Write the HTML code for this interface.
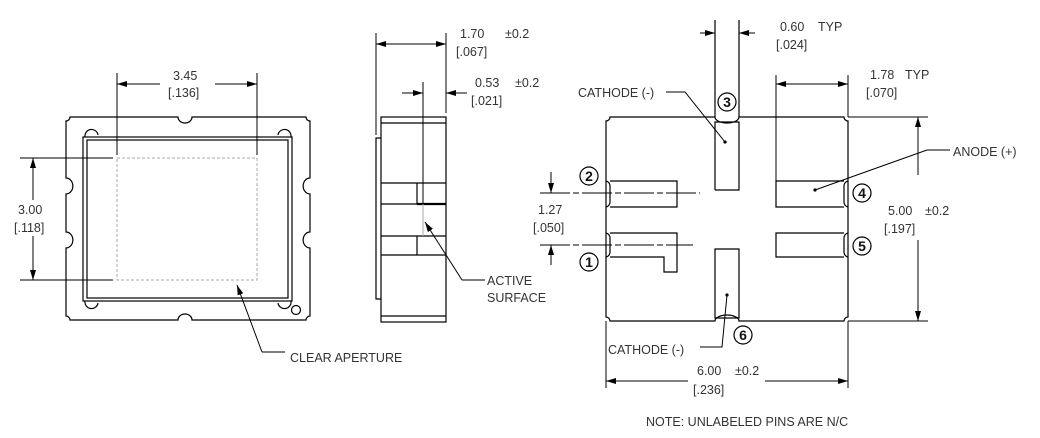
<!DOCTYPE html>
<html><head><meta charset="utf-8"><style>
html,body{margin:0;padding:0;background:#fff;}
svg{display:block;}
text{font-family:"Liberation Sans",sans-serif;font-size:12.5px;fill:#333;}
.b{font-weight:bold;font-size:14px;fill:#111;}
</style></head><body>
<svg width="1040" height="438" viewBox="0 0 1040 438" xmlns="http://www.w3.org/2000/svg">
<defs>
<marker id="a" viewBox="0 0 10 6" refX="10" refY="3" markerWidth="10" markerHeight="6" orient="auto" markerUnits="userSpaceOnUse"><path d="M0,0 L10,3 L0,6 z" fill="#000"/></marker>
</defs>
<g stroke="#000" stroke-width="1.2" fill="none">
<!-- LEFT VIEW -->
<path d="M70,117 H178 A7,6 0 0 0 192,117 H306 A4,4 0 0 0 310,121 V178 A6,7 0 0 0 310,194 V232 A6,7 0 0 0 310,248 V316 A4,4 0 0 0 306,320 H192 A7,6 0 0 0 178,320 H70 A4,4 0 0 0 66,316 V248 A6,7 0 0 0 66,232 V194 A6,7 0 0 0 66,178 V121 A4,4 0 0 0 70,117 Z"/>
<rect x="83" y="137" width="209" height="164"/>
<rect x="87" y="140" width="201" height="158"/>
<path d="M85,137 A6,6 0 0 1 98,135 M278,135 A6,6 0 0 1 291,137 M85,301 A6,6 0 0 0 98,303 M278,303 A6,6 0 0 0 291,301"/>
<circle cx="296" cy="310" r="4.5"/>
<rect x="117" y="158" width="140" height="122" stroke="#aaa" stroke-dasharray="3,2" stroke-width="1"/>
<path d="M117,73 V155 M257,73 V155 M20,158 H113 M20,280 H113" stroke-width="1"/>
<g stroke-width="1" marker-end="url(#a)">
<path d="M160,84 H117"/><path d="M215,84 H257"/>
<path d="M33,200 V158"/><path d="M33,236 V280"/>
<path d="M262,352 L237,285"/>
</g>
<path d="M262,352 H285" stroke-width="1"/>
<!-- SIDE VIEW -->
<rect x="381" y="117" width="65" height="205"/>
<path d="M381,123 H446 M381,316 H446 M381,183 H446 M381,204 H446 M381,236 H446 M381,255 H446 M417,183 V204 M417,236 V255"/>
<path d="M417,204 H446" stroke-width="2.2"/>
<path d="M381,138 H376 V299 H381"/>
<path d="M423,82 V204" stroke-width="1"/>
<path d="M423,204 V236" stroke="#aaa" stroke-width="1"/>
<path d="M376,33 V135 M446,33 V113" stroke-width="1"/>
<g stroke-width="1" marker-end="url(#a)">
<path d="M411,44 H376"/><path d="M411,44 H446"/>
<path d="M402,93 H423"/><path d="M467,93 H446"/>
<path d="M462,280 L425,222"/>
</g>
<path d="M462,280 H485" stroke-width="1"/>
<!-- RIGHT VIEW -->
<path d="M610,117 H715 A12,6 0 0 0 739,117 H844 A4,4 0 0 0 848,121 V317 A4,4 0 0 0 844,321 H739 A12,6 0 0 0 715,321 H610 A4,4 0 0 0 606,317 V121 A4,4 0 0 0 610,117 Z"/>
<path d="M715,20 V117 M739,20 V117 M715,190 V122 H739 V190 H715 M715,249 H739 V318 H715 Z"/>
<path d="M606,181 A5,5 0 0 1 610,186 V202 A5,5 0 0 1 606,207 M610,181 H677 V207 H610"/>
<path d="M606,233 A5,5 0 0 1 610,238 V252 A5,5 0 0 1 606,257 M610,233 H677 V272 H664 V257 H610"/>
<path d="M848,181 A5,5 0 0 0 844,186 V202 A5,5 0 0 0 848,207 M844,181 H776 V207 H844"/>
<path d="M848,233 A5,5 0 0 0 844,238 V252 A5,5 0 0 0 848,257 M844,233 H776 V257 H844"/>
<path d="M540,193 H700 M540,245 H693" stroke-width="1" stroke-dasharray="30,3,6,3"/>
<g stroke-width="1" marker-end="url(#a)">
<path d="M551,172 V193"/><path d="M551,265 V245"/>
<path d="M700,33 H715"/><path d="M755,33 H739"/>
<path d="M800,84 H776"/><path d="M820,84 H848"/>
<path d="M918,150 V117"/><path d="M918,290 V321"/>
<path d="M688,381 H606"/><path d="M765,381 H848"/>
</g>
<path d="M776,75 V181 M848,75 V117 M848,117 H928 M848,321 H928 M918,150 V175 M918,240 V290 M606,321 V388 M848,321 V388 M800,84 H820" stroke-width="1"/>
<path d="M666,92 H685 L725,142 M815,190 L927,150 H950 M727,295 L722,347 H700" stroke-width="1"/>
<circle cx="589" cy="176" r="9"/><circle cx="589" cy="262" r="9"/><circle cx="727" cy="102" r="9"/>
<circle cx="862" cy="193" r="9"/><circle cx="862" cy="246" r="9"/><circle cx="743" cy="335" r="9"/>
</g>
<g fill="#000"><circle cx="725" cy="142" r="1.6"/><circle cx="815" cy="190" r="1.6"/><circle cx="727" cy="295" r="1.6"/></g>
<g>
<text x="173" y="80">3.45</text><text x="168" y="97">[.136]</text>
<text x="18" y="214">3.00</text><text x="14" y="232">[.118]</text>
<text x="290" y="362">CLEAR APERTURE</text>
<text x="460" y="38">1.70</text><text x="505" y="38">±0.2</text><text x="456" y="56">[.067]</text>
<text x="475" y="87">0.53</text><text x="515" y="87">±0.2</text><text x="471" y="105">[.021]</text>
<text x="487" y="285">ACTIVE</text><text x="487" y="302">SURFACE</text>
<text x="538" y="214">1.27</text><text x="533" y="232">[.050]</text>
<text x="578" y="97">CATHODE (-)</text>
<text x="608" y="354">CATHODE (-)</text>
<text x="780" y="31">0.60</text><text x="818" y="31">TYP</text><text x="776" y="49">[.024]</text>
<text x="870" y="79">1.78</text><text x="905" y="79">TYP</text><text x="866" y="97">[.070]</text>
<text x="953" y="156">ANODE (+)</text>
<text x="888" y="215">5.00</text><text x="925" y="215">±0.2</text><text x="884" y="233">[.197]</text>
<text x="697" y="375">6.00</text><text x="735" y="375">±0.2</text><text x="693" y="394">[.236]</text>
<text x="646" y="426">NOTE: UNLABELED PINS ARE N/C</text>
<text class="b" x="589" y="181" text-anchor="middle">2</text>
<text class="b" x="589" y="267" text-anchor="middle">1</text>
<text class="b" x="727" y="107" text-anchor="middle">3</text>
<text class="b" x="862" y="198" text-anchor="middle">4</text>
<text class="b" x="862" y="251" text-anchor="middle">5</text>
<text class="b" x="743" y="340" text-anchor="middle">6</text>
</g>
</svg>
</body></html>
